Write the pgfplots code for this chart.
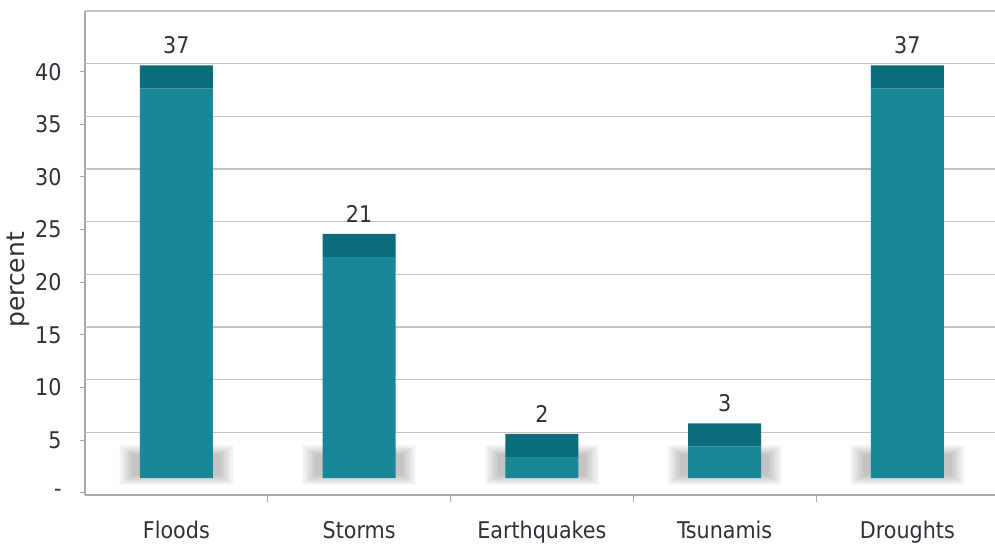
\documentclass[border=0pt]{standalone}
\usepackage{pgfplots}
\pgfplotsset{compat=1.18}
\usepackage{pgfplotstable}
\usepackage{fontspec}
\setmainfont{DejaVu Sans Condensed}
\newfontfamily\labelfont{DejaVu Sans}

\definecolor{barfront}{RGB}{24,135,151}
\definecolor{bartop}{RGB}{11,108,124}
\definecolor{gridgray}{RGB}{196,196,196}
\definecolor{axisgray}{RGB}{168,168,168}
\definecolor{labelgray}{RGB}{48,48,58}

% share of disasters by type (percent); floor = raised foot of the 3-D bars,
% cap = depth of the darker top face
\pgfplotstableread{
x  pct  floor  cap
0  37   1.4    2.2
1  21   1.4    2.2
2  2    1.4    2.2
3  3    1.4    2.2
4  37   1.4    2.2
}\disasters

% soft floor shadow under each bar, five layers from outer to inner
% (b = bottom of a layer, h = its height)
\pgfplotstableread{
x  b1   h1   b2   h2   b3   h3   b4   h4   b5   h5
0  0.8  3.7  1.0  3.3  1.2  2.9  1.4  2.5  1.6  2.1
1  0.8  3.7  1.0  3.3  1.2  2.9  1.4  2.5  1.6  2.1
2  0.8  3.7  1.0  3.3  1.2  2.9  1.4  2.5  1.6  2.1
3  0.8  3.7  1.0  3.3  1.2  2.9  1.4  2.5  1.6  2.1
4  0.8  3.7  1.0  3.3  1.2  2.9  1.4  2.5  1.6  2.1
}\shadows

\pgfplotsset{
  chartframe/.style={
    scale only axis, width=913.75bp, height=484.4bp,
    xmin=-0.5, xmax=4.5, ymin=-0.2, ymax=45.8,
    at={(85bp,54bp)}, anchor=south west,
  },
}

% one translucent layer of the floor shadow: #1 width, #2 and #3 columns
\newcommand\shadowlayer[3]{%
  \begin{axis}[chartframe, hide axis, ybar stacked, bar width=#1]
    \addplot[draw=none, fill=none] table[x=x, y=#2] \shadows;
    \addplot[draw=none, fill=black, fill opacity=0.05] table[x=x, y=#3] \shadows;
  \end{axis}}

\begin{document}
\begin{tikzpicture}[x=1bp,y=1bp]
\useasboundingbox (0,0) rectangle (995,549);

% frame, back-wall grid, ticks and labels
\begin{axis}[chartframe,
  axis x line=bottom, axis y line=left,
  axis line style={-, draw=axisgray, line width=1.2bp},
  tick align=outside, major tick length=5bp,
  ytick={0,5,...,40},
  yticklabels={-,5,10,15,20,25,30,35,40},
  ytick style={draw=axisgray, line width=1bp},
  yticklabel style={font=\fontsize{23bp}{26bp}\selectfont, text=labelgray, xshift=-15bp},
  extra y ticks={5.76,10.76,15.76,20.76,25.76,30.76,35.76,40.76,45.76},
  extra y tick labels={},
  extra y tick style={ymajorgrids=true, major tick length=0pt},
  major grid style={draw=gridgray, line width=1.3bp},
  xtick={0,1,2,3,4},
  xticklabels={Floods,Storms,Earthquakes,Tsunamis,Droughts},
  xtick style={draw=none},
  xticklabel style={font=\fontsize{23bp}{26bp}\selectfont, text=labelgray, anchor=north, yshift=-18bp},
  extra x ticks={0.5,1.5,2.5,3.5},
  extra x tick labels={},
  extra x tick style={xtick style={draw=axisgray, line width=1bp}, major tick length=7bp},
  ylabel={percent},
  every axis y label/.style={at={(axis description cs:-0.073,0.444)}, rotate=90, anchor=center,
    font=\labelfont\fontsize{25bp}{28bp}\selectfont, text=labelgray},
]
\end{axis}

% floor shadows
\shadowlayer{113bp}{b1}{h1}
\shadowlayer{107bp}{b2}{h2}
\shadowlayer{101bp}{b3}{h3}
\shadowlayer{95bp}{b4}{h4}
\shadowlayer{89bp}{b5}{h5}

% the bars: raised foot, front face of height pct, darker top face
\begin{axis}[chartframe, hide axis, ybar stacked, bar width=73bp,
  /pgf/number format/assume math mode=true]
  \addplot[draw=none, fill=none] table[x=x, y=floor] \disasters;
  \addplot[draw=none, fill=barfront] table[x=x, y=pct] \disasters;
  \addplot[draw=none, fill=bartop,
    point meta=explicit,
    nodes near coords={\raisebox{23bp}{\pgfmathprintnumber{\pgfplotspointmeta}}},
    every node near coord/.append style={font=\fontsize{23bp}{26bp}\selectfont,
      text=labelgray, anchor=south, inner sep=0pt}]
    table[x=x, y=cap, meta=pct] \disasters;
\end{axis}
\end{tikzpicture}
\end{document}
